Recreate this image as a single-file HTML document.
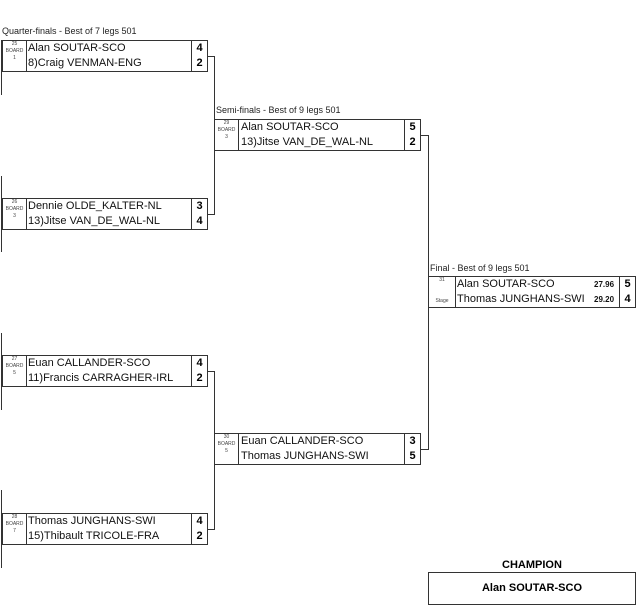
<!DOCTYPE html>
<html><head><style>
body{margin:0;width:640px;height:608px;background:#fff;position:relative;font-family:"Liberation Sans","DejaVu Sans",sans-serif;overflow:hidden}
.a{position:absolute}
.t{font-size:9px;color:#222}
.box{position:absolute;border:1px solid #333;height:32px;box-sizing:border-box;background:#fff}
.num{position:absolute;left:0;top:0;width:23px;height:100%;border-right:1px solid #333;font-size:5px;text-align:center;color:#444;line-height:7px}
.n{position:absolute;font-size:11px;color:#111;white-space:nowrap}
.s{position:absolute;right:0;top:0;width:15px;height:100%;border-left:1px solid #333;font-size:11px;font-weight:bold;text-align:center;line-height:15px}
.h{position:absolute;background:#333;height:1px}
.v{position:absolute;background:#333;width:1px}
</style></head><body>
<div class="a t" style="left:2px;top:26px">Quarter-finals - Best of 7 legs 501</div>
<div class="a t" style="left:216px;top:105px">Semi-finals - Best of 9 legs 501</div>
<div class="a t" style="left:430px;top:263px">Final - Best of 9 legs 501</div>

<div class="box" style="left:2px;top:40px;width:206px"><div class="num">25<br>BOARD<br>1</div><div class="n" style="left:25px;top:1px">Alan SOUTAR-SCO</div><div class="n" style="left:25px;top:16px">8)Craig VENMAN-ENG</div><div class="s">4<br>2</div></div>
<div class="box" style="left:2px;top:198px;width:206px"><div class="num">26<br>BOARD<br>3</div><div class="n" style="left:25px;top:1px">Dennie OLDE_KALTER-NL</div><div class="n" style="left:25px;top:16px">13)Jitse VAN_DE_WAL-NL</div><div class="s">3<br>4</div></div>
<div class="box" style="left:2px;top:355px;width:206px"><div class="num">27<br>BOARD<br>5</div><div class="n" style="left:25px;top:1px">Euan CALLANDER-SCO</div><div class="n" style="left:25px;top:16px">11)Francis CARRAGHER-IRL</div><div class="s">4<br>2</div></div>
<div class="box" style="left:2px;top:513px;width:206px"><div class="num">28<br>BOARD<br>7</div><div class="n" style="left:25px;top:1px">Thomas JUNGHANS-SWI</div><div class="n" style="left:25px;top:16px">15)Thibault TRICOLE-FRA</div><div class="s">4<br>2</div></div>

<div class="box" style="left:214px;top:119px;width:207px"><div class="num">29<br>BOARD<br>3</div><div class="n" style="left:26px;top:1px">Alan SOUTAR-SCO</div><div class="n" style="left:26px;top:16px">13)Jitse VAN_DE_WAL-NL</div><div class="s">5<br>2</div></div>
<div class="box" style="left:214px;top:433px;width:207px"><div class="num">30<br>BOARD<br>5</div><div class="n" style="left:26px;top:1px">Euan CALLANDER-SCO</div><div class="n" style="left:26px;top:16px">Thomas JUNGHANS-SWI</div><div class="s">3<br>5</div></div>

<div class="box" style="left:428px;top:276px;width:208px"><div class="num" style="width:26px">31<br><br><br>Stage</div><div class="n" style="left:28px;top:1px">Alan SOUTAR-SCO</div><div class="n" style="left:28px;top:16px">Thomas JUNGHANS-SWI</div><div class="n" style="left:165px;top:3px;font-size:8px;font-weight:bold">27.96</div><div class="n" style="left:165px;top:18px;font-size:8px;font-weight:bold">29.20</div><div class="s">5<br>4</div></div>

<div class="v" style="left:1px;top:40px;height:55px"></div>
<div class="v" style="left:1px;top:176px;height:76px"></div>
<div class="v" style="left:1px;top:333px;height:77px"></div>
<div class="v" style="left:1px;top:490px;height:78px"></div>

<div class="h" style="left:208px;top:56px;width:7px"></div>
<div class="h" style="left:208px;top:214px;width:7px"></div>
<div class="v" style="left:214px;top:56px;height:159px"></div>
<div class="h" style="left:208px;top:371px;width:7px"></div>
<div class="h" style="left:208px;top:529px;width:7px"></div>
<div class="v" style="left:214px;top:371px;height:159px"></div>
<div class="h" style="left:421px;top:135px;width:8px"></div>
<div class="h" style="left:421px;top:449px;width:8px"></div>
<div class="v" style="left:428px;top:135px;height:315px"></div>

<div class="a" style="left:428px;top:559px;width:208px;text-align:center;font-size:11px;font-weight:bold">CHAMPION</div>
<div class="box" style="left:428px;top:572px;width:208px;height:33px;text-align:center;font-size:11px;font-weight:bold;line-height:31px">Alan SOUTAR-SCO</div>
</body></html>
